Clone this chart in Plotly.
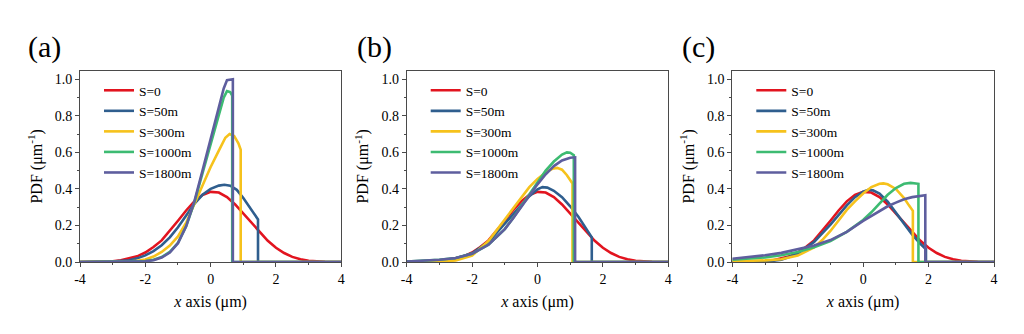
import plotly.graph_objects as go

# ---------------- data ----------------
names = ["S=0", "S=50m", "S=300m", "S=1000m", "S=1800m"]
colors = ["#E2141F", "#2F5E8E", "#F6C21C", "#3DBB72", "#5E5E9E"]
panel_labels = ["(a)", "(b)", "(c)"]
x_ticks = [-4, -2, 0, 2, 4]
y_ticks = [0.0, 0.2, 0.4, 0.6, 0.8, 1.0]

# common S=0 gaussian-like curve
x_s0 = [-4, -3.5, -3, -2.75, -2.5, -2.25, -2, -1.75, -1.5, -1.25, -1, -0.75, -0.5, -0.25,
        0, 0.25, 0.5, 0.75, 1, 1.25, 1.5, 1.75, 2, 2.25, 2.5, 2.75, 3, 3.25, 3.5, 4]
y_s0 = [0, 0.0005, 0.004, 0.009, 0.018, 0.031, 0.052, 0.082, 0.118, 0.170, 0.226, 0.282, 0.332, 0.367,
        0.384, 0.380, 0.355, 0.315, 0.265, 0.212, 0.160, 0.116, 0.078, 0.049, 0.028, 0.015, 0.007, 0.003, 0.001, 0]

# panel (a)
xa_50 = [-4, -3, -2.5, -2.25, -2, -1.75, -1.5, -1.25, -1, -0.75, -0.5, -0.25, 0, 0.25, 0.42, 0.6, 0.8, 1.0, 1.2, 1.45, 1.45, 4]
ya_50 = [0, 0.002, 0.010, 0.020, 0.036, 0.060, 0.092, 0.135, 0.190, 0.255, 0.318, 0.368, 0.400, 0.418, 0.423, 0.418, 0.395, 0.350, 0.300, 0.233, 0, 0]
xa_300 = [-4, -3, -2.5, -2.25, -2, -1.75, -1.5, -1.25, -1, -0.75, -0.5, -0.25, 0, 0.25, 0.45, 0.58, 0.72, 0.85, 0.92, 0.92, 4]
ya_300 = [0, 0, 0.002, 0.006, 0.014, 0.030, 0.055, 0.090, 0.140, 0.215, 0.320, 0.425, 0.520, 0.610, 0.680, 0.700, 0.690, 0.650, 0.615, 0, 0]
xa_1000 = [-4, -2.5, -2, -1.75, -1.5, -1.25, -1, -0.75, -0.5, -0.25, 0, 0.25, 0.4, 0.5, 0.6, 0.66, 0.66, 4]
ya_1000 = [0, 0.001, 0.005, 0.012, 0.027, 0.055, 0.105, 0.195, 0.325, 0.485, 0.650, 0.810, 0.900, 0.935, 0.930, 0.910, 0, 0]
xa_1800 = [-4, -2.5, -2, -1.75, -1.5, -1.25, -1, -0.75, -0.5, -0.25, 0, 0.25, 0.4, 0.5, 0.6, 0.68, 0.68, 4]
ya_1800 = [0, 0.001, 0.004, 0.010, 0.024, 0.052, 0.103, 0.195, 0.330, 0.500, 0.670, 0.840, 0.950, 0.995, 1.000, 1.000, 0, 0]

# panel (b)
xb_50 = [-4, -3.5, -3, -2.5, -2, -1.5, -1, -0.5, -0.25, 0, 0.15, 0.3, 0.5, 0.75, 1.0, 1.25, 1.5, 1.66, 1.66, 4]
yb_50 = [0.001, 0.003, 0.008, 0.020, 0.048, 0.110, 0.210, 0.310, 0.360, 0.398, 0.410, 0.407, 0.390, 0.355, 0.305, 0.248, 0.182, 0.135, 0, 0]
xb_300 = [-4, -3.5, -3, -2.5, -2, -1.5, -1, -0.5, -0.25, 0, 0.25, 0.45, 0.6, 0.75, 0.9, 1.07, 1.07, 4]
yb_300 = [0, 0.001, 0.003, 0.008, 0.035, 0.115, 0.235, 0.355, 0.410, 0.455, 0.490, 0.510, 0.515, 0.505, 0.475, 0.430, 0, 0]
xb_1000 = [-4, -3.5, -3, -2.5, -2, -1.5, -1, -0.75, -0.5, -0.25, 0, 0.25, 0.5, 0.75, 0.9, 1.0, 1.11, 1.11, 4]
yb_1000 = [0.003, 0.006, 0.012, 0.022, 0.045, 0.095, 0.180, 0.240, 0.305, 0.375, 0.440, 0.500, 0.550, 0.588, 0.600, 0.598, 0.585, 0, 0]
xb_1800 = [-4, -3.5, -3, -2.5, -2, -1.5, -1, -0.75, -0.5, -0.25, 0, 0.25, 0.5, 0.75, 0.9, 1.0, 1.15, 1.15, 4]
yb_1800 = [0.003, 0.006, 0.012, 0.022, 0.045, 0.095, 0.180, 0.238, 0.300, 0.365, 0.425, 0.480, 0.525, 0.556, 0.567, 0.571, 0.573, 0, 0]

# panel (c)
xc_50 = [-4, -3, -2.5, -2, -1.5, -1, -0.5, -0.25, 0, 0.16, 0.3, 0.5, 0.75, 1.0, 1.25, 1.5, 1.75, 1.92, 1.92, 4]
yc_50 = [0, 0.002, 0.012, 0.045, 0.110, 0.205, 0.310, 0.355, 0.385, 0.395, 0.392, 0.375, 0.330, 0.272, 0.210, 0.150, 0.100, 0.070, 0, 0]
xc_300 = [-4, -3.5, -3, -2.5, -2, -1.5, -1.25, -1, -0.75, -0.5, -0.25, 0, 0.25, 0.5, 0.62, 0.75, 1.0, 1.25, 1.4, 1.52, 1.52, 4]
yc_300 = [0.004, 0.006, 0.009, 0.015, 0.035, 0.080, 0.120, 0.170, 0.230, 0.285, 0.332, 0.375, 0.410, 0.428, 0.430, 0.425, 0.400, 0.350, 0.310, 0.280, 0, 0]
xc_1000 = [-4, -3.5, -3, -2.5, -2, -1.5, -1, -0.5, 0, 0.25, 0.5, 0.75, 1.0, 1.25, 1.45, 1.6, 1.69, 1.69, 4]
yc_1000 = [0.012, 0.018, 0.025, 0.037, 0.055, 0.080, 0.115, 0.165, 0.230, 0.272, 0.320, 0.368, 0.405, 0.428, 0.433, 0.431, 0.428, 0, 0]
xc_1800 = [-4, -3.5, -3, -2.5, -2, -1.5, -1, -0.5, 0, 0.25, 0.5, 0.75, 1.0, 1.25, 1.5, 1.75, 1.9, 1.9, 4]
yc_1800 = [0.018, 0.027, 0.037, 0.050, 0.068, 0.090, 0.120, 0.165, 0.225, 0.252, 0.280, 0.305, 0.325, 0.343, 0.355, 0.362, 0.365, 0, 0]

panels = [
    [(x_s0, y_s0), (xa_50, ya_50), (xa_300, ya_300), (xa_1000, ya_1000), (xa_1800, ya_1800)],
    [(x_s0, y_s0), (xb_50, yb_50), (xb_300, yb_300), (xb_1000, yb_1000), (xb_1800, yb_1800)],
    [(x_s0, y_s0), (xc_50, yc_50), (xc_300, yc_300), (xc_1000, yc_1000), (xc_1800, yc_1800)],
]

# ---------------- layout geometry ----------------
W, H = 1024, 334
x_domains = [(80 / W, 341.3 / W), (406.7 / W, 668.3 / W), (732.3 / W, 994 / W)]
y_domain = (1 - 262 / H, 1 - 70.7 / H)
FONT = "Liberation Serif, Times New Roman, serif"
AXC = "#4a4a4a"

fig = go.Figure()
for p, series in enumerate(panels):
    sfx = "" if p == 0 else str(p + 1)
    leg = "legend" if p == 0 else f"legend{p + 1}"
    for k, (xs, ys) in enumerate(series):
        fig.add_trace(go.Scatter(
            x=xs, y=ys, mode="lines", name=names[k],
            line=dict(color=colors[k], width=2.6),
            xaxis="x" + sfx, yaxis="y" + sfx, legend=leg, showlegend=True,
        ))

layout = dict(
    width=W, height=H, margin=dict(l=0, r=0, t=0, b=0, autoexpand=False),
    paper_bgcolor="white", plot_bgcolor="white",
    font=dict(family=FONT, color="black", size=13),
)
for p in range(3):
    sfx = "" if p == 0 else str(p + 1)
    layout["xaxis" + sfx] = dict(
        domain=list(x_domains[p]), anchor="y" + sfx, range=[-4, 4], automargin=False,
        tickvals=x_ticks, ticktext=[str(v) for v in x_ticks],
        ticks="outside", ticklen=4, tickwidth=1, tickcolor=AXC,
        minor=dict(dtick=1, ticks="outside", ticklen=2, tickcolor=AXC),
        showline=True, linecolor=AXC, linewidth=1, mirror=True,
        showgrid=False, zeroline=False,
        tickfont=dict(size=14, family=FONT, color="black"),
        title=dict(text="<i>x</i> axis (μm)", font=dict(size=16, family=FONT), standoff=10),
    )
    layout["yaxis" + sfx] = dict(
        domain=list(y_domain), anchor="x" + sfx, range=[0, 1.047], automargin=False,
        tickvals=y_ticks, ticktext=[f"{v:.1f}" for v in y_ticks],
        ticks="outside", ticklen=4, tickwidth=1, tickcolor=AXC,
        minor=dict(dtick=0.1, ticks="outside", ticklen=2, tickcolor=AXC),
        showline=True, linecolor=AXC, linewidth=1, mirror=True,
        showgrid=False, zeroline=False,
        tickfont=dict(size=14, family=FONT, color="black"),
        title=dict(text="PDF (μm<sup>-1</sup>)", font=dict(size=16, family=FONT), standoff=8),
    )
    legname = "legend" if p == 0 else f"legend{p + 1}"
    layout[legname] = dict(
        x=(x_domains[p][0] * W + 19) / W, y=1 - 75 / H, xanchor="left", yanchor="top",
        bgcolor="rgba(0,0,0,0)", borderwidth=0, tracegroupgap=0, itemwidth=30,
        font=dict(size=13.5, family=FONT, color="black"),
    )

label_x = [26, 355, 680]
layout["annotations"] = [
    dict(text=panel_labels[p], x=label_x[p] / W, y=1 - 47 / H, xref="paper", yref="paper",
         xanchor="left", yanchor="middle", showarrow=False,
         font=dict(size=30, family=FONT, color="black"))
    for p in range(3)
]
fig.update_layout(**layout)
fig.write_html("out.html")
